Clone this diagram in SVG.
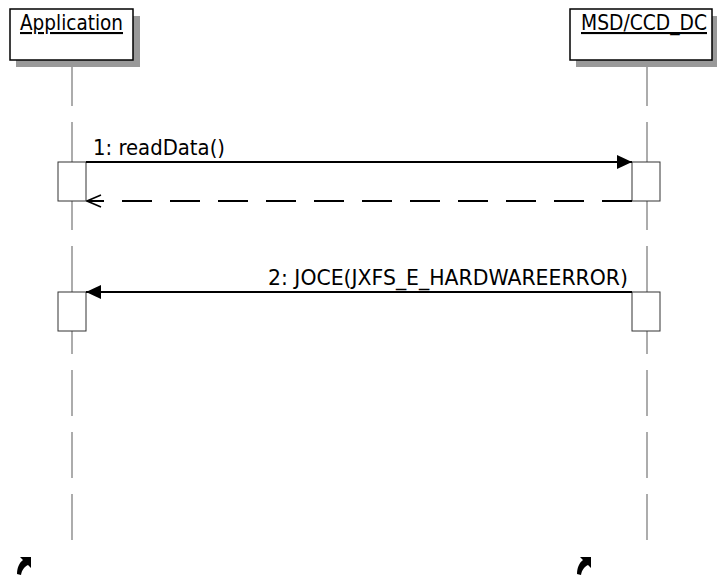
<svg xmlns="http://www.w3.org/2000/svg" width="717" height="577" viewBox="0 0 717 577">
<style>
.shadow{fill:#999}
.obj{fill:#fff;stroke:#000;stroke-width:1.5}
.lbl{font-family:"DejaVu Sans Condensed","DejaVu Sans",sans-serif;font-size:21px;fill:#000}
.life{stroke:#808080;stroke-width:1.3;stroke-dasharray:46 16;fill:none}
.act{fill:#fff;stroke:#333;stroke-width:1}
.msg{stroke:#000;stroke-width:2;fill:none}
.ret{stroke:#000;stroke-width:2;fill:none;stroke-dasharray:30 18}
.icon{fill:#000}
</style>
<defs>
<marker id="filled" markerWidth="16" markerHeight="14" refX="15" refY="7" orient="auto" markerUnits="userSpaceOnUse">
<path d="M0,0 L15,7 L0,14 Z" fill="#000"/>
</marker>
<marker id="open" markerWidth="16" markerHeight="14" refX="15" refY="7" orient="auto" markerUnits="userSpaceOnUse">
<path d="M1,1 L15,7 L1,13" fill="none" stroke="#000" stroke-width="1.5"/>
</marker>
</defs>
<g id="lifelines">
<line class="life" x1="72" y1="60" x2="72" y2="541"/>
<line class="life" x1="647" y1="60" x2="647" y2="541"/>
</g>
<g id="Application">
<rect class="shadow" x="16" y="16" width="124" height="51"/>
<rect class="obj" x="10" y="9" width="123" height="51"/>
<text class="lbl" x="20" y="30" textLength="103" lengthAdjust="spacingAndGlyphs" text-decoration="underline">Application</text>
</g>
<g id="MSD_CCD_DC">
<rect class="shadow" x="576" y="16" width="141" height="51"/>
<rect class="obj" x="570" y="9" width="142" height="51"/>
<text class="lbl" x="581" y="30" textLength="126" lengthAdjust="spacingAndGlyphs" text-decoration="underline">MSD/CCD_DC</text>
</g>
<g id="activations">
<rect class="act" x="58" y="162" width="28" height="39"/>
<rect class="act" x="632" y="162" width="28" height="39"/>
<rect class="act" x="58" y="292" width="28" height="39"/>
<rect class="act" x="632" y="292" width="28" height="39"/>
</g>
<g id="connectors">
<line class="msg" x1="86" y1="162" x2="632" y2="162" marker-end="url(#filled)"/>
<text class="lbl" x="93" y="155" textLength="132" lengthAdjust="spacingAndGlyphs">1: readData()</text>
<line class="ret" x1="632" y1="201" x2="87" y2="201" marker-end="url(#open)"/>
<line class="msg" x1="632" y1="292" x2="86" y2="292" marker-end="url(#filled)"/>
<text class="lbl" x="268" y="285" textLength="360" lengthAdjust="spacingAndGlyphs">2: JOCE(JXFS_E_HARDWAREERROR)</text>
</g>
<g id="icons">
<path class="icon" d="M20,557 L31,557 L31,568 L28,565 C24,567 22,570 21,575 L17,574 C17,568 19,563 23,560 Z"/>
<path class="icon" d="M580,557 L591,557 L591,568 L588,565 C584,567 582,570 581,575 L577,574 C577,568 579,563 583,560 Z"/>
</g>
</svg>
